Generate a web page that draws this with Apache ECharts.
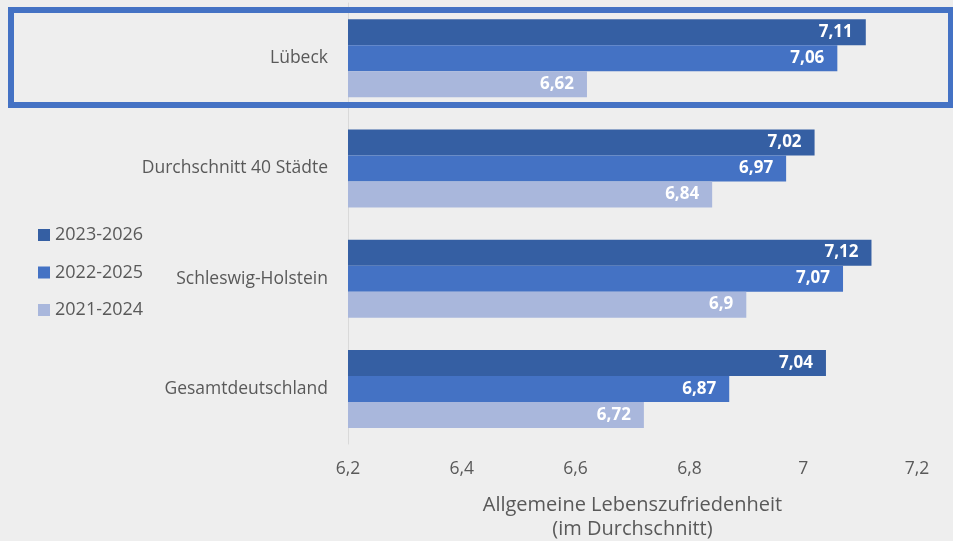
<!DOCTYPE html>
<html><head><meta charset="utf-8">
<script src="https://cdn.jsdelivr.net/npm/echarts@6/dist/echarts.min.js"></script>
<style>html,body{margin:0;padding:0;background:#EEEEEE}#c{width:953px;height:541px}</style>
</head><body><div id="c"></div>
<script>
const categories = ["Lübeck", "Durchschnitt 40 Städte", "Schleswig-Holstein", "Gesamtdeutschland"];
const seriesNames = ["2023-2026", "2022-2025", "2021-2024"];
const values2023_2026 = [7.11, 7.02, 7.12, 7.04];
const values2022_2025 = [7.06, 6.97, 7.07, 6.87];
const values2021_2024 = [6.62, 6.84, 6.9, 6.72];
const xTicks = [6.2, 6.4, 6.6, 6.8, 7, 7.2];
const colors = ["#355FA3", "#4472C4", "#A9B7DC"];
const allValues = [values2023_2026, values2022_2025, values2021_2024];

const fmt = v => String(Math.round(v * 100) / 100).replace('.', ',');
const chart = echarts.init(document.getElementById('c'));
const font = '"Open Sans", "Noto Sans", sans-serif';
chart.setOption({
  backgroundColor: '#EEEEEE',
  animation: false,
  textStyle: { fontFamily: font },
  legend: {
    orient: 'vertical', left: 33, top: 221,
    itemWidth: 12, itemHeight: 12, itemGap: 19.5,
    icon: 'rect',
    textStyle: { fontSize: 18, color: '#595959', fontFamily: font },
    data: seriesNames
  },
  grid: { left: 348, right: 36, top: 3, bottom: 97, outerBoundsMode: 'none' },
  xAxis: {
    type: 'value', min: xTicks[0], max: xTicks[xTicks.length - 1], interval: 0.2,
    axisLabel: { formatter: fmt, fontSize: 17.5, color: '#595959', margin: 16 },
    splitLine: { show: false }, axisLine: { show: false }, axisTick: { show: false },
    name: 'Allgemeine Lebenszufriedenheit\n(im Durchschnitt)',
    nameLocation: 'middle', nameGap: 49,
    nameTextStyle: { fontSize: 20, color: '#595959', lineHeight: 24 }
  },
  yAxis: {
    type: 'category', data: categories, inverse: true,
    axisLine: { show: true, lineStyle: { color: '#D9D9D9', width: 1 } },
    axisTick: { show: false },
    axisLabel: { fontSize: 17.5, color: '#595959', margin: 20 }
  },
  series: seriesNames.map((n, i) => ({
    name: n, type: 'bar', data: allValues[i],
    barWidth: 26, barGap: '0%',
    itemStyle: { color: colors[i] },
    label: { show: true, position: 'insideRight', formatter: p => fmt(p.value),
      color: '#FFFFFF', fontWeight: 'bold', fontSize: 17, distance: 13 }
  })),
  graphic: [{
    type: 'rect', shape: { x: 11, y: 10, width: 940, height: 95 },
    style: { fill: 'none', stroke: '#4472C4', lineWidth: 6 }, z: 100
  }]
});
</script></body></html>
